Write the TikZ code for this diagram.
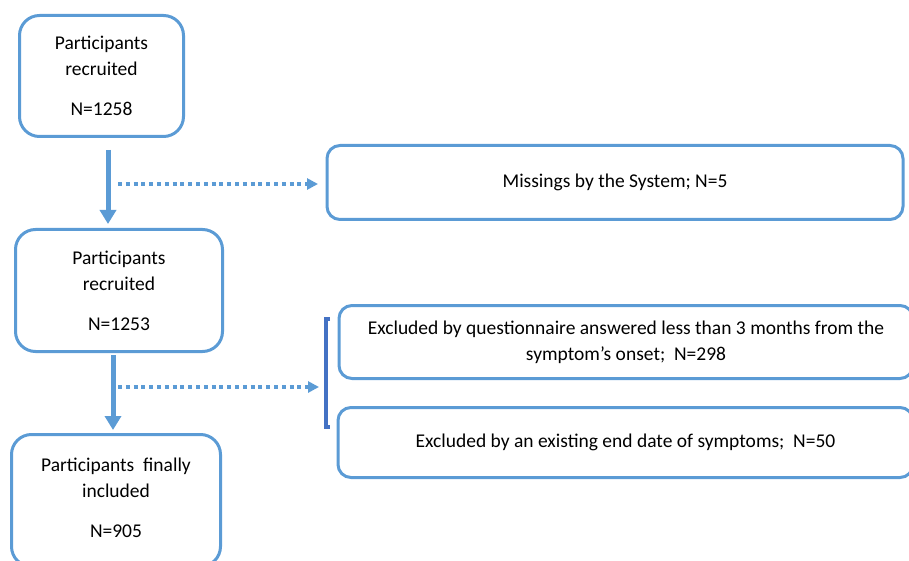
\documentclass[tikz,border=0pt]{standalone}
\usepackage{fontspec}
\setmainfont{Carlito}
\usetikzlibrary{arrows.meta}
\definecolor{boxblue}{HTML}{5B9BD5}
\definecolor{brkblue}{HTML}{4472C4}
\begin{document}
\begin{tikzpicture}[x=1pt,y=-1pt,
  txt/.style={font=\fontsize{19.5}{26}\selectfont, align=center, text=black},
  smallbox/.style={txt, draw=boxblue, line width=3pt, rounded corners=20pt, inner sep=0pt},
  widebox/.style={txt, draw=boxblue, line width=3pt, rounded corners=13pt, inner sep=0pt},
  flow/.style={draw=boxblue, line width=5pt, -{Triangle[width=16pt,length=14pt]}},
  dotflow/.style={draw=boxblue, line width=4.5pt, dash pattern=on 4pt off 3.8pt, -{Triangle[width=11pt,length=11pt]}},
  bracket/.style={draw=brkblue, line width=4pt}
]
\useasboundingbox (0,0) rectangle (909,561);
\begin{scope}
\clip (0,0) rectangle (909,561);
\node[smallbox, minimum width=164pt, minimum height=121pt] (box1) at (101.5,76) {Participants\\recruited\\[14pt]N=1258};
\node[smallbox, minimum width=207pt, minimum height=122pt] (box2) at (119,290.5) {Participants\\recruited\\[14pt]N=1253};
\node[smallbox, minimum width=209pt, minimum height=132pt, text depth=6pt] (box5) at (116,500.5) {Participants\ \ finally\\included\\[14pt]N=905};
\node[widebox, minimum width=576pt, minimum height=74pt] (miss) at (615,182.5) {Missings by the System; N=5};
\node[widebox, minimum width=574pt, minimum height=73pt] (exc1) at (626,342) {Excluded by questionnaire answered less than 3 months from the\\symptom’s onset;\ \ N=298};
\node[widebox, minimum width=575pt, minimum height=70pt] (exc2) at (625.5,442.5) {Excluded by an existing end date of symptoms;\ \ N=50};
\end{scope}

\coordinate (a1s) at (108,150);
\coordinate (a2s) at (113,355);
\coordinate (d1s) at (118,184);
\coordinate (d2s) at (118,387);
\coordinate (brtop) at (330,319);
\coordinate (brbot) at (330,427);
\coordinate (brmid) at (325.5,387);

\draw[flow, shorten >=4pt] (a1s) -- (a1s |- box2.north);
\draw[flow, shorten >=3pt] (a2s) -- (a2s |- box5.north);
\draw[dotflow] (d1s) -- ([xshift=-7.5pt]d1s -| miss.west);
\draw[dotflow, shorten >=6.5pt] (d2s) -- (brmid);
\draw[bracket] (brtop) -- (brtop -| brmid) -- (brbot -| brmid) -- (brbot);
\end{tikzpicture}
\end{document}
